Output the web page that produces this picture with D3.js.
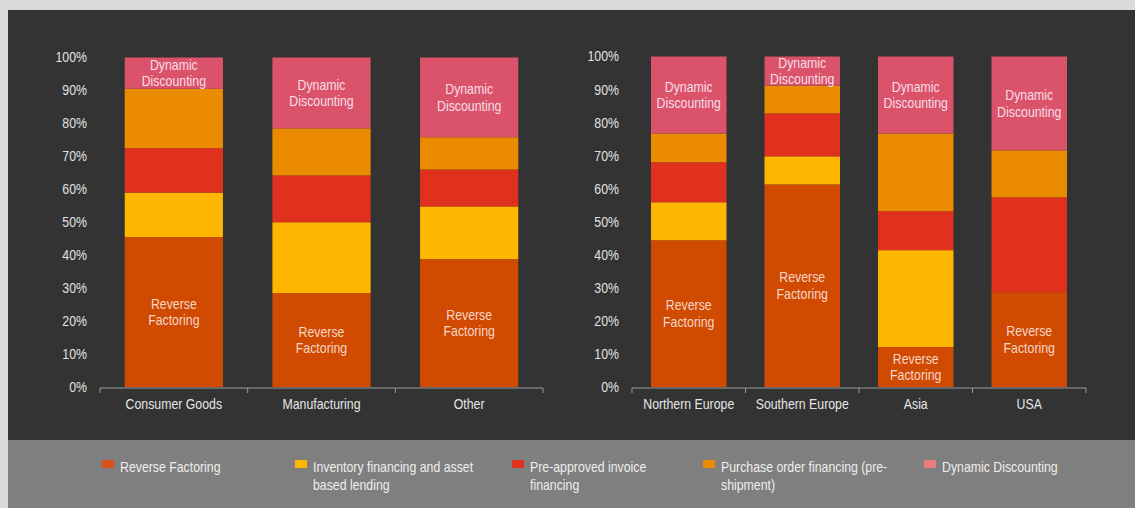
<!DOCTYPE html>
<html>
<head>
<meta charset="utf-8">
<script src="https://cdn.jsdelivr.net/npm/d3@7"></script>
<style>
  html, body { margin: 0; padding: 0; background: #d9d9d9; }
  svg { display: block; }
  text { font-family: "Liberation Sans", Arial, Helvetica, sans-serif; }
</style>
</head>
<body>
<svg id="chart" width="1135" height="508"></svg>
<script>
// Categories for the two panels
const sectors = ["Consumer Goods", "Manufacturing", "Other"];
const regions = ["Northern Europe", "Southern Europe", "Asia", "USA"];

// Series (stack order, bottom to top)
const seriesKeys = ["rf", "inv", "pre", "po", "dd"];
const seriesNames = [
  "Reverse Factoring",
  "Inventory financing and asset based lending",
  "Pre-approved invoice financing",
  "Purchase order financing (pre-shipment)",
  "Dynamic Discounting"
];
const legendLines = [
  ["Reverse Factoring"],
  ["Inventory financing and asset", "based lending"],
  ["Pre-approved invoice", "financing"],
  ["Purchase order financing (pre-", "shipment)"],
  ["Dynamic Discounting"]
];
const seriesColors = ["#d04a02", "#ffb600", "#e0301e", "#eb8c00", "#db536a"];
const legendColors = ["#d9541a", "#ffb600", "#e0301e", "#eb8c00", "#e87c7c"];

// Shares (%) by sector
const sectorRF  = [45.5, 28.5, 38.8];
const sectorInv = [13.5, 21.5, 16.0];
const sectorPre = [13.5, 14.2, 11.2];
const sectorPO  = [18.0, 14.3,  9.8];
const sectorDD  = [ 9.5, 21.5, 24.2];

// Shares (%) by region
const regionRF  = [44.4, 61.3, 12.1, 28.7];
const regionInv = [11.5,  8.5, 29.3,  0.0];
const regionPre = [12.1, 13.0, 11.8, 28.7];
const regionPO  = [ 8.7,  8.4, 23.5, 14.2];
const regionDD  = [23.3,  8.8, 23.3, 28.4];

// Y-axis tick values
const yTicks = [0, 10, 20, 30, 40, 50, 60, 70, 80, 90, 100];

// Segments that carry an in-bar label
const labelledSeries = { rf: ["Reverse", "Factoring"], dd: ["Dynamic", "Discounting"] };

// Horizontal squeeze giving a condensed typeface look
const NARROW = 0.88;
const FONT = 14;

const svg = d3.select("#chart");

// Frame: dark plot area and grey legend band
svg.append("rect").attr("x", 8).attr("y", 10).attr("width", 1127).attr("height", 430).attr("fill", "#333333");
svg.append("rect").attr("x", 8).attr("y", 440).attr("width", 1127).attr("height", 68).attr("fill", "#7f7f7f");

// Multi-line condensed text anchored at (x, y); lines are centred vertically on y
function narrowText(parent, x, y, lines, anchor, fill, lineH) {
  const g = parent.append("g").attr("transform", `translate(${x},${y}) scale(${NARROW},1)`);
  const t = g.append("text").attr("text-anchor", anchor).attr("fill", fill).attr("font-size", FONT);
  const start = -(lines.length - 1) * lineH / 2;
  lines.forEach((ln, k) => {
    t.append("tspan").attr("x", 0).attr("y", start + k * lineH).attr("dy", "0.35em").text(ln);
  });
  return g;
}

function buildRows(cats, rf, inv, pre, po, dd) {
  return cats.map((c, i) => ({ cat: c, rf: rf[i], inv: inv[i], pre: pre[i], po: po[i], dd: dd[i] }));
}

function drawPanel(opts) {
  const { cats, rows, x0, x1, yTop, yBottom, labelRight } = opts;
  const g = svg.append("g");

  const x = d3.scaleBand().domain(cats).range([x0, x1]).padding(0);
  const y = d3.scaleLinear().domain([0, 100]).range([yBottom, yTop]);
  const barW = x.bandwidth() * 0.665;

  const stacked = d3.stack().keys(seriesKeys)(rows);

  // Bars
  stacked.forEach((layer, li) => {
    g.append("g").selectAll("rect")
      .data(layer.filter(d => d[1] - d[0] > 0))
      .join("rect")
      .attr("x", d => x(d.data.cat) + x.bandwidth() / 2 - barW / 2)
      .attr("width", barW)
      .attr("y", d => y(d[1]))
      .attr("height", d => y(d[0]) - y(d[1]))
      .attr("fill", seriesColors[li]);
  });

  // In-bar labels for Reverse Factoring and Dynamic Discounting
  stacked.forEach(layer => {
    const lines = labelledSeries[layer.key];
    if (!lines) return;
    const fill = layer.key === "rf" ? "#f7d6c8" : "#f6dfe6";
    layer.forEach(d => {
      if (d[1] - d[0] <= 0) return;
      const cx = x(d.data.cat) + x.bandwidth() / 2;
      const cy = (y(d[0]) + y(d[1])) / 2;
      narrowText(g, cx, cy, lines, "middle", fill, 16.5);
    });
  });

  // Y-axis labels (no axis line)
  const yAxis = d3.axisLeft(y).tickValues(yTicks).tickFormat(d => d + "%").tickSize(0).tickPadding(0);
  const ya = g.append("g").attr("transform", `translate(${labelRight},0)`).call(yAxis);
  ya.select(".domain").remove();
  ya.selectAll("text")
    .attr("fill", "#e2e2e2")
    .attr("font-size", FONT)
    .attr("transform", `scale(${NARROW},1)`)
    .style("font-family", null);
  ya.attr("font-family", null);

  // X-axis baseline with tick marks between categories
  const xa = g.append("g").attr("transform", `translate(0,${yBottom + 1})`);
  xa.append("line").attr("x1", x0).attr("x2", x1).attr("y1", 0).attr("y2", 0)
    .attr("stroke", "#9c9c9c").attr("stroke-width", 1);
  const bounds = cats.map(c => x(c)).concat([x1]);
  xa.selectAll("line.tick").data(bounds).join("line").attr("class", "tick")
    .attr("x1", d => d).attr("x2", d => d).attr("y1", 0).attr("y2", 5)
    .attr("stroke", "#9c9c9c").attr("stroke-width", 1);
  cats.forEach(c => {
    narrowText(xa, x(c) + x.bandwidth() / 2, 16, [c], "middle", "#e6e6e6", 16);
  });
}

drawPanel({
  cats: sectors,
  rows: buildRows(sectors, sectorRF, sectorInv, sectorPre, sectorPO, sectorDD),
  x0: 100, x1: 543, yTop: 57.5, yBottom: 387, labelRight: 87
});

drawPanel({
  cats: regions,
  rows: buildRows(regions, regionRF, regionInv, regionPre, regionPO, regionDD),
  x0: 632, x1: 1086, yTop: 56.5, yBottom: 387, labelRight: 619
});

// Legend
const legendX = [102, 295, 512, 703, 924];
const legend = svg.append("g");
seriesNames.forEach((name, i) => {
  const item = legend.append("g").attr("transform", `translate(${legendX[i]},460)`);
  item.append("rect").attr("x", 0).attr("y", 0).attr("width", 12).attr("height", 8)
    .attr("fill", legendColors[i]);
  const lines = legendLines[i];
  // first line centred at y=467, following lines 18px below
  narrowText(item, 18, 7 + (lines.length - 1) * 9, lines, "start", "#eeeeee", 18);
});
</script>
</body>
</html>
